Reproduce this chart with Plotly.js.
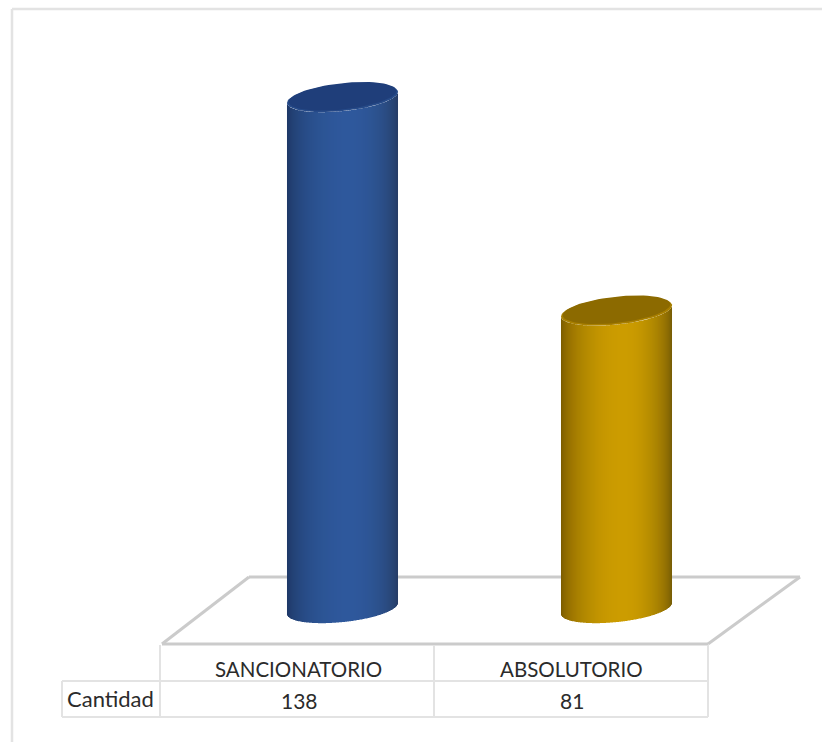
<!DOCTYPE html>
<html>
<head>
<meta charset="utf-8">
<script src="https://cdn.plot.ly/plotly-3.0.1.min.js"></script>
<style>html,body{margin:0;padding:0;background:#fff}#c{width:822px;height:742px}</style>
</head>
<body>
<div id="c"></div>
<script>
const categories = ["SANCIONATORIO", "ABSOLUTORIO"];
const seriesName = "Cantidad";
const values = [138, 81];

const W = 822, H = 742;
const pxPerCat = 274, pxPerVal = 3.745;
const cx0 = 342.5, y0px = 614.3;
const floorLevel = 1.55;          // base of the cylinders above the axis zero
const a = 55.5, b = 13.6, s = 5.5; // cylinder ellipse in px
const palettes = [
  {edgeL:[30,54,100], mid:[47,89,156], edgeR:[38,58,98], cap:[31,62,122], rim:[38,74,136]},
  {edgeL:[118,88,0], mid:[204,156,0], edgeR:[112,88,6], cap:[140,106,0], rim:[168,127,0]}
];
function mix(p, q, t){ return p.map((v,i)=>Math.round(v+(q[i]-v)*t)); }
function shade(pal, u){ // u in -1..1
  const c = 0.12;
  let t = u < c ? (u+1)/(c+1) : (1-u)/(1-c);
  t = Math.pow(Math.sin(t*Math.PI/2), 0.6);
  const col = mix(u < c ? pal.edgeL : pal.edgeR, pal.mid, t);
  return `rgb(${col[0]},${col[1]},${col[2]})`;
}
const dx = 1/pxPerCat;
const traces = [];
categories.forEach((cat, k) => {
  const n = 2*a, xs=[], bases=[], hs=[], cols=[];
  for (let i=0;i<Math.ceil(n);i++){
    const xpx = -a + i + 0.5, u = Math.max(-0.999, Math.min(0.999, xpx/a));
    const arc = (-s*u + b*Math.sqrt(1-u*u))/pxPerVal; // lower arc, downward offset in value units
    const base = floorLevel - arc, top = values[k] - arc;
    xs.push(k + xpx*dx); bases.push(base); hs.push(top-base); cols.push(shade(palettes[k], u));
  }
  traces.push({type:"bar", name:cat, x:xs, y:hs, base:bases, width:dx*1.02,
    marker:{color:cols, line:{width:0}}, hoverinfo:"skip", showlegend:false});
  [[1,palettes[k].rim,0],[0.97,palettes[k].cap,1.2]].forEach(([f,c,up])=>{
    const ex=[], ey=[];
    for(let j=0;j<=72;j++){
      const t=j/72*2*Math.PI;
      ex.push(k + f*a*Math.cos(t)*dx);
      ey.push(values[k] + (s*Math.cos(t) - b*f*Math.sin(t) + up)/pxPerVal);
    }
    traces.push({type:"scatter", mode:"lines", x:ex, y:ey, fill:"toself",
      fillcolor:`rgb(${c})`, line:{width:0, color:`rgb(${c})`}, hoverinfo:"skip", showlegend:false});
  });
});

function line(x0,y0,x1,y1,color,width){
  return {type:"line", xref:"paper", yref:"paper", layer:"below",
    x0:x0/W, x1:x1/W, y0:1-y0/H, y1:1-y1/H, line:{color, width}};
}
const G="#e3e3e3", F="#cbcbcb";
const shapes=[
  line(12,9,822,9,G,2.5), line(12,9,12,742,G,2.5),
  line(162,644,249,577,F,3), line(249,577,800,577,F,3), line(800,577,708,644,F,3), line(162,644,708,644,F,3),
  line(160,645,160,717,G,2), line(434,645,434,717,G,2), line(708,645,708,717,G,2),
  line(62,681,708,681,G,2), line(62,717,708,717,G,2), line(62,681,62,717,G,2)
];
function txt(t,xp,yp,size){
  return {text:t, xref:"paper", yref:"paper", x:xp/W, y:1-yp/H, xanchor:"center", yanchor:"middle",
    showarrow:false, font:{family:"Lato, Carlito, sans-serif", size:size, color:"#2b2b2b"}};
}
const annotations=[
  txt(seriesName,110.5,698.5,22),
  ...categories.map((c,i)=>txt(c,298+i*273.5,668.5,20.5)),
  ...values.map((v,i)=>txt(String(v),299+i*273,700,21))
];
Plotly.newPlot("c", traces, {
  width:W, height:H, margin:{l:0,r:0,t:0,b:0}, paper_bgcolor:"#fff", plot_bgcolor:"rgba(0,0,0,0)",
  barmode:"overlay",
  xaxis:{range:[-cx0/pxPerCat,(W-cx0)/pxPerCat], visible:false, fixedrange:true},
  yaxis:{range:[-(H-y0px)/pxPerVal, y0px/pxPerVal], visible:false, fixedrange:true},
  shapes, annotations, showlegend:false
},{staticPlot:true, displayModeBar:false});
</script>
</body>
</html>
